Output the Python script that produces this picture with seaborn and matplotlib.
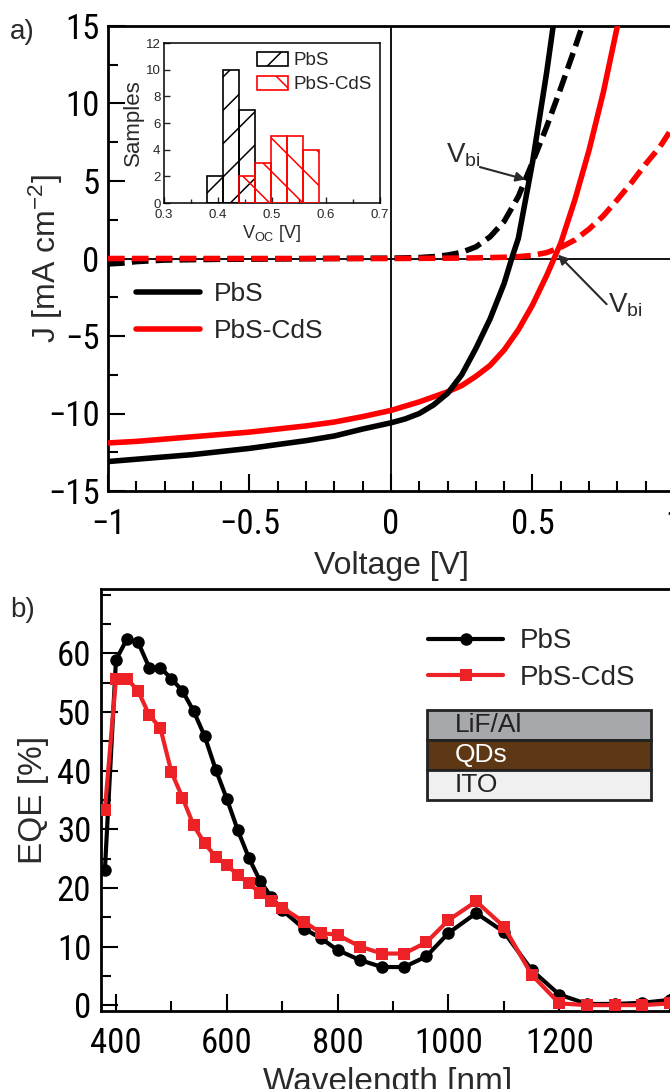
import numpy as np
import pandas as pd
import matplotlib
matplotlib.use("Agg")
import matplotlib.pyplot as plt
import seaborn as sns
from matplotlib import font_manager as fm
from matplotlib.patches import Rectangle, Patch
from matplotlib.ticker import MultipleLocator

# ---------------- data ----------------
# (a) J-V curves
v_pbs_light = [-1.0, -0.9, -0.8, -0.7, -0.6, -0.5, -0.4, -0.3, -0.2, -0.1, 0.0, 0.05, 0.1, 0.15,
               0.2, 0.25, 0.3, 0.35, 0.4, 0.43, 0.45, 0.5, 0.55, 0.6]
j_pbs_light = [-13.1, -12.95, -12.8, -12.65, -12.45, -12.25, -12.0, -11.75, -11.45, -11.0, -10.6,
               -10.35, -10.0, -9.45, -8.7, -7.5, -5.8, -3.9, -1.6, 0.2, 1.3, 6.2, 12.0, 18.5]

v_cds_light = [-1.0, -0.9, -0.8, -0.7, -0.6, -0.5, -0.4, -0.3, -0.2, -0.1, 0.0, 0.1, 0.2, 0.25,
               0.3, 0.35, 0.4, 0.45, 0.5, 0.55, 0.6, 0.65, 0.7, 0.75, 0.8, 0.85]
j_cds_light = [-11.9, -11.8, -11.65, -11.5, -11.35, -11.2, -11.0, -10.8, -10.55, -10.2, -9.8,
               -9.25, -8.6, -8.2, -7.6, -6.9, -5.9, -4.6, -3.0, -1.1, 1.0, 3.8, 7.0, 10.7, 15.0, 19.5]

v_pbs_dark = [-1.0, -0.95, -0.9, -0.8, -0.6, -0.4, -0.2, 0.0, 0.1, 0.15, 0.2, 0.25, 0.3, 0.35,
              0.4, 0.45, 0.5, 0.55, 0.6, 0.65, 0.7, 0.75]
j_pbs_dark = [-0.35, -0.3, -0.2, -0.1, -0.05, -0.03, 0.0, 0.02, 0.06, 0.12, 0.22, 0.4, 0.75, 1.4,
              2.4, 4.0, 6.2, 8.5, 11.0, 13.6, 16.3, 19.5]

v_cds_dark = [-1.0, -0.5, 0.0, 0.2, 0.3, 0.4, 0.45, 0.5, 0.55, 0.6, 0.65, 0.7, 0.75, 0.8, 0.85,
              0.9, 0.95, 1.0]
j_cds_dark = [0.0, 0.0, 0.0, 0.02, 0.04, 0.08, 0.12, 0.2, 0.38, 0.72, 1.2, 1.9, 2.75, 3.8, 4.9,
              6.1, 7.2, 8.6]

series_names = ["PbS", "PbS-CdS"]

# inset histogram of Voc
bin_width = 0.0297
pbs_bin_left = [0.379, 0.4087, 0.4384]
pbs_counts = [2, 10, 7]
cds_bin_left = [0.4384, 0.4681, 0.4978, 0.5275, 0.5572]
cds_counts = [2, 3, 5, 5, 4]

# (b) EQE spectra
wavelength = [380, 400, 420, 440, 460, 480, 500, 520, 540, 560, 580, 600, 620, 640, 660, 680, 700,
              740, 770, 800, 840, 880, 920, 960, 1000, 1050, 1100, 1150, 1200, 1250, 1300, 1350, 1400]
eqe_pbs = [23.0, 58.9, 62.5, 61.9, 57.6, 57.6, 55.7, 53.6, 50.2, 45.9, 40.2, 35.2, 29.8, 25.1, 21.2,
           18.5, 16.2, 13.0, 11.4, 9.4, 7.7, 6.5, 6.5, 8.3, 12.3, 15.7, 12.5, 6.0, 1.8, 0.2, 0.2,
           0.4, 0.9]
eqe_cds = [33.3, 55.7, 55.7, 53.6, 49.5, 47.3, 39.8, 35.4, 30.7, 27.6, 25.3, 23.9, 22.2, 20.8, 19.1,
           17.8, 16.6, 14.2, 12.3, 12.0, 10.0, 8.8, 8.8, 10.7, 14.5, 17.7, 13.4, 5.2, 0.3, 0.0, 0.0,
           0.0, 0.3]

layer_names = ["LiF/Al", "QDs", "ITO"]

# ---------------- style ----------------
sns.set_theme(style="ticks")
names = {f.name for f in fm.fontManager.ttflist}
BASE = "Liberation Sans"
NARROW = BASE
for cand in ["Liberation Sans Narrow", "Arial Narrow", "Roboto Condensed", "DejaVu Sans Condensed",
             "Open Sans Condensed"]:
    if cand in names:
        NARROW = cand
        break
TICK_FS = 25 if NARROW != BASE else 23
plt.rcParams["font.family"] = [BASE, "DejaVu Sans"]
plt.rcParams["mathtext.default"] = "regular"
plt.rcParams["axes.unicode_minus"] = True
plt.rcParams["hatch.linewidth"] = 1.1

RED_A = "#ff0000"
RED_B = "#ec2227"
LABEL_C = "#2a2a2a"

W, H = 670, 1089
fig = plt.figure(figsize=(W / 100, H / 100), dpi=100)
fig.patch.set_facecolor("white")


def fr(l, t, r, b):
    return [l / W, 1 - b / H, (r - l) / W, (b - t) / H]


def style_axes(ax, spine_w=2.0):
    for s in ax.spines.values():
        s.set_linewidth(spine_w)
        s.set_color("black")
    ax.tick_params(which="both", direction="in", top=False, right=False, width=1.5,
                   colors="black")
    ax.tick_params(which="major", length=12)
    ax.tick_params(which="minor", length=7)
    for lab in ax.get_xticklabels() + ax.get_yticklabels():
        lab.set_fontfamily(NARROW)
        lab.set_fontsize(TICK_FS)


# ---------------- panel a ----------------
ax1 = fig.add_axes(fr(108, 26, 674, 491))
ax1.axhline(0, color="black", lw=1.3, zorder=1)
ax1.axvline(0, color="black", lw=1.3, zorder=1)

dash = (0, (3.0, 1.3))
sns.lineplot(x=v_pbs_dark, y=j_pbs_dark, ax=ax1, color="black", lw=4, ls=dash, sort=False,
             estimator=None, zorder=3)
sns.lineplot(x=v_cds_dark, y=j_cds_dark, ax=ax1, color=RED_A, lw=4, ls=dash, sort=False,
             estimator=None, zorder=3)
sns.lineplot(x=v_cds_light, y=j_cds_light, ax=ax1, color=RED_A, lw=4, sort=False,
             estimator=None, zorder=4, label=series_names[1])
sns.lineplot(x=v_pbs_light, y=j_pbs_light, ax=ax1, color="black", lw=4, sort=False,
             estimator=None, zorder=4, label=series_names[0])

ax1.set_xlim(-1, 1)
ax1.set_ylim(-15, 15)
ax1.xaxis.set_minor_locator(MultipleLocator(0.1))
ax1.yaxis.set_minor_locator(MultipleLocator(2.5))
ax1.set_xticks([-1, -0.5, 0, 0.5, 1])
ax1.set_xticklabels(["\u22121", "\u22120.5", "0", "0.5", "1"])
ax1.set_yticks([-15, -10, -5, 0, 5, 10, 15])
ax1.set_yticklabels(["\u221215", "\u221210", "\u22125", "0", "5", "10", "15"])
style_axes(ax1)
ax1.tick_params(axis="x", pad=12.5)
ax1.tick_params(axis="y", pad=6)
ax1.set_xlabel("Voltage [V]", fontsize=23, color=LABEL_C)
ax1.set_ylabel("J [mA cm$^{-2}$]", fontsize=23, color=LABEL_C)
ax1.xaxis.set_label_coords(0.5, -0.13)
ax1.yaxis.set_label_coords(-0.076, 0.5)

h, l = ax1.get_legend_handles_labels()
order = [l.index(series_names[0]), l.index(series_names[1])]
ax1.legend([h[i] for i in order], [l[i] for i in order], loc="upper left",
           bbox_to_anchor=(0.049, 0.449), frameon=False, fontsize=19, handlelength=2.45,
           handletextpad=0.5, borderpad=0, borderaxespad=0, labelspacing=0.48)

# V_bi annotations
ax1.text(0.196, 6.2, "V$_{bi}$", fontsize=20, color=LABEL_C, ha="left", va="baseline")
ax1.annotate("", xy=(0.475, 5.1), xytext=(0.314, 5.9),
             arrowprops=dict(arrowstyle="-|>", color=LABEL_C, lw=1.5, mutation_scale=14,
                             shrinkA=0, shrinkB=0), zorder=6)
ax1.text(0.766, -3.5, "V$_{bi}$", fontsize=20, color=LABEL_C, ha="left", va="baseline")
ax1.annotate("", xy=(0.59, 0.25), xytext=(0.762, -2.95),
             arrowprops=dict(arrowstyle="-|>", color=LABEL_C, lw=1.5, mutation_scale=14,
                             shrinkA=0, shrinkB=0), zorder=6)

# inset histogram
axi = fig.add_axes(fr(164, 43, 380, 203))
axi.set_facecolor("white")
axi.bar(pbs_bin_left, pbs_counts, width=bin_width, align="edge", facecolor="none",
        edgecolor="black", hatch="/", lw=1.2, zorder=2)
axi.bar(cds_bin_left, cds_counts, width=bin_width, align="edge", facecolor="none",
        edgecolor=RED_A, hatch="\\", lw=1.2, zorder=3)
axi.set_xlim(0.3, 0.7)
axi.set_ylim(0, 12)
axi.xaxis.set_major_locator(MultipleLocator(0.1))
axi.xaxis.set_minor_locator(MultipleLocator(0.05))
axi.yaxis.set_major_locator(MultipleLocator(2))
for s in axi.spines.values():
    s.set_linewidth(1.1)
    s.set_color("black")
axi.tick_params(which="both", direction="in", top=False, right=False, width=1, labelsize=9.5,
                pad=2.5)
axi.tick_params(axis="x", pad=4.5)
axi.tick_params(which="major", length=4)
axi.tick_params(which="minor", length=3)
axi.set_ylabel("Samples", fontsize=16, color=LABEL_C, labelpad=1)
axi.set_xlabel("V$_{OC}$ [V]", fontsize=13, color=LABEL_C, labelpad=1)
leg_handles = [Patch(facecolor="none", edgecolor="black", hatch="/", lw=1.2),
               Patch(facecolor="none", edgecolor=RED_A, hatch="\\", lw=1.2)]
axi.legend(leg_handles, series_names, loc="upper left", bbox_to_anchor=(0.43, 0.945),
           frameon=False, fontsize=13.5, handlelength=1.65, handleheight=0.75,
           handletextpad=0.3, borderpad=0, borderaxespad=0, labelspacing=0.35)

# ---------------- panel b ----------------
ax2 = fig.add_axes(fr(101, 589, 674, 1011))
sns.lineplot(x=wavelength, y=eqe_pbs, ax=ax2, color="black", lw=3, marker="o", ms=9,
             mec="black", mew=0, sort=False, estimator=None, label=series_names[0], zorder=3)
sns.lineplot(x=wavelength, y=eqe_cds, ax=ax2, color=RED_B, lw=3, marker="s", ms=8.5,
             mec=RED_B, mew=0, sort=False, estimator=None, label=series_names[1], zorder=4)
ax2.set_xlim(373, 1407)
ax2.set_ylim(-1, 71)
ax2.set_xticks([400, 600, 800, 1000, 1200, 1400])
ax2.set_xticklabels(["400", "600", "800", "1000", "1200", ""])
ax2.xaxis.set_minor_locator(MultipleLocator(100))
ax2.set_yticks([0, 10, 20, 30, 40, 50, 60])
ax2.yaxis.set_minor_locator(MultipleLocator(5))
style_axes(ax2)
ax2.tick_params(axis="x", pad=11.5)
ax2.tick_params(axis="y", pad=7)
ax2.set_xlabel("Wavelength [nm]", fontsize=24, color=LABEL_C)
ax2.set_ylabel("EQE [%]", fontsize=24, color=LABEL_C)
ax2.xaxis.set_label_coords(0.5, -0.133)
ax2.yaxis.set_label_coords(-0.09, 0.5)
ax2.legend(loc="upper left", bbox_to_anchor=(0.571, 0.907), frameon=False, fontsize=20,
           handlelength=2.7, handletextpad=0.6, borderpad=0, borderaxespad=0,
           labelspacing=0.38)

# device stack
layer_fc = ["#a7a8ab", "#5e3815", "#f0f0f0"]
layer_tc = ["#222222", "white", "#222222"]
x0, x1 = 0.569, 0.960
ytop, rowh = 0.713, 0.0711
for i, (name, fc, tc) in enumerate(zip(layer_names, layer_fc, layer_tc)):
    yb = ytop - (i + 1) * rowh
    ax2.add_patch(Rectangle((x0, yb), x1 - x0, rowh, transform=ax2.transAxes, facecolor=fc,
                            edgecolor="#222222", lw=2, zorder=5))
    ax2.text(x0 + 0.048, yb + rowh / 2, name, transform=ax2.transAxes, fontsize=19, color=tc,
             ha="left", va="center", zorder=6)

fig.text(10 / W, 1 - 32 / H, "a)", fontsize=20, color=LABEL_C, ha="left", va="center")
fig.text(10 / W, 1 - 610 / H, "b)", fontsize=20, color=LABEL_C, ha="left", va="center")

fig.savefig("out.png", dpi=100, facecolor="white")
